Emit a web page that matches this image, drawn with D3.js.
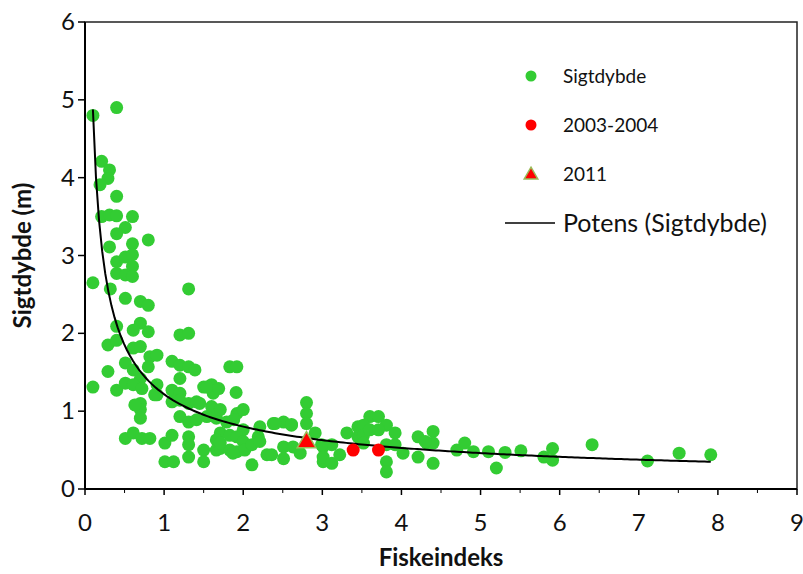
<!DOCTYPE html>
<html>
<head>
<meta charset="utf-8">
<script src="https://cdn.jsdelivr.net/npm/d3@7"></script>
<style>
  body { margin: 0; background: #fff; }
  text { font-family: Lato, "Open Sans", sans-serif; fill: #111; }
</style>
</head>
<body>
<svg id="chart" width="803" height="574"></svg>
<script>
// Sigtdybde (m) mod Fiskeindeks - punkter
const sigtX = [0.10, 0.40, 0.21, 0.31, 0.29, 0.19, 0.40, 0.21, 0.31, 0.40, 0.60, 0.51, 0.40, 0.80, 0.31, 0.60,
  0.40, 0.51, 0.60, 0.60, 0.40, 0.51, 0.60, 0.10, 0.32, 0.51, 1.31, 0.70, 0.80, 0.40, 0.70, 0.61, 0.80,
  1.20, 1.31, 0.29, 0.40, 0.61, 0.70, 0.51, 0.82, 0.91, 0.80, 1.10, 1.20, 1.31, 1.39, 0.29, 0.61, 1.20,
  0.70, 0.10, 0.40, 0.51, 0.61, 0.72, 0.91, 0.91, 1.10, 1.20, 1.50, 1.60, 1.62, 0.70, 0.70, 0.70, 1.10,
  1.20, 1.31, 1.41, 1.60, 1.20, 1.31, 1.41, 1.66, 1.71, 0.51, 0.61, 0.72, 0.82, 1.01, 1.10, 1.31, 1.31,
  1.31, 1.50, 1.50, 1.01, 1.12, 1.66, 1.66, 1.83, 1.92, 1.54, 1.69, 1.91, 1.64, 1.71, 1.92, 2.00, 1.54,
  1.79, 1.88, 2.21, 2.00, 1.83, 1.92, 2.00, 2.19, 2.38, 2.51, 2.61, 2.80, 2.80, 2.80, 2.91, 1.71, 1.83,
  1.92, 2.02, 2.11, 2.11, 2.30, 2.51, 2.51, 2.63, 2.72, 3.01, 0.63, 0.88, 1.45, 1.71, 1.87, 2.21, 2.40,
  2.36, 3.01, 3.12, 3.01, 3.12, 3.22, 3.31, 3.45, 3.45, 3.60, 3.71, 3.52, 3.81, 3.52, 3.60, 3.71, 3.92,
  3.52, 3.81, 3.92, 4.02, 3.81, 3.81, 4.21, 4.21, 4.32, 4.40, 4.40, 4.40, 4.30, 4.70, 4.80, 4.91, 5.10,
  5.20, 5.31, 5.51, 5.80, 5.91, 5.91, 6.41, 7.11, 7.51, 7.91, 2.99, 2.61];
const sigtY = [4.80, 4.90, 4.21, 4.10, 3.99, 3.91, 3.76, 3.50, 3.52, 3.51, 3.50, 3.36, 3.28, 3.20, 3.11, 3.15,
  2.92, 2.98, 3.01, 2.86, 2.77, 2.75, 2.73, 2.65, 2.57, 2.45, 2.57, 2.41, 2.36, 2.09, 2.13, 2.04, 2.02,
  1.98, 2.00, 1.85, 1.91, 1.81, 1.83, 1.62, 1.70, 1.72, 1.57, 1.64, 1.59, 1.57, 1.53, 1.51, 1.53, 1.42,
  1.42, 1.31, 1.27, 1.36, 1.34, 1.29, 1.34, 1.21, 1.27, 1.23, 1.31, 1.34, 1.23, 1.10, 1.02, 0.91, 1.12,
  1.14, 1.10, 1.12, 1.06, 0.93, 0.86, 0.89, 0.91, 0.72, 0.65, 0.72, 0.65, 0.65, 0.59, 0.69, 0.67, 0.57,
  0.41, 0.50, 0.35, 0.35, 0.35, 0.63, 0.50, 1.57, 1.57, 1.31, 1.29, 1.24, 1.02, 1.02, 0.97, 1.02, 0.93,
  0.86, 0.89, 0.80, 0.76, 0.69, 0.67, 0.61, 0.67, 0.84, 0.86, 0.82, 1.11, 0.97, 0.84, 0.72, 0.52, 0.50,
  0.48, 0.50, 0.57, 0.31, 0.44, 0.54, 0.39, 0.54, 0.46, 0.35, 1.08, 1.21, 1.10, 0.59, 0.46, 0.61, 0.84,
  0.44, 0.54, 0.57, 0.41, 0.33, 0.44, 0.72, 0.80, 0.67, 0.93, 0.93, 0.82, 0.82, 0.69, 0.76, 0.76, 0.72,
  0.59, 0.57, 0.57, 0.46, 0.35, 0.22, 0.67, 0.41, 0.59, 0.74, 0.59, 0.33, 0.61, 0.50, 0.59, 0.48, 0.48,
  0.27, 0.47, 0.49, 0.41, 0.52, 0.37, 0.57, 0.36, 0.46, 0.44, 0.57, 0.83];

// 2003-2004 og 2011
const p0304X = [3.39, 3.71];
const p0304Y = [0.50, 0.50];
const p2011X = [2.80];
const p2011Y = [0.60];

const xTicks = [0, 1, 2, 3, 4, 5, 6, 7, 8, 9];
const yTicks = [0, 1, 2, 3, 4, 5, 6];
const legendLabels = ["Sigtdybde", "2003-2004", "2011", "Potens (Sigtdybde)"];

const svg = d3.select("#chart");
const margin = {left: 85, right: 6, top: 22, bottom: 85};
const W = 803, H = 574;

const x = d3.scaleLinear().domain([0, 9]).range([margin.left, W - margin.right]);
const y = d3.scaleLinear().domain([0, 6]).range([H - margin.bottom, margin.top]);

// plot area frame
svg.append("rect")
    .attr("x", x(0)).attr("y", y(6))
    .attr("width", x(9) - x(0)).attr("height", y(0) - y(6))
    .attr("fill", "none").attr("stroke", "#222").attr("stroke-width", 1.5);

// power trendline fitted like Excel: regression of ln(y) on ln(x)
let lx = sigtX.map(Math.log), ly = sigtY.map(Math.log);
let mx = d3.mean(lx), my = d3.mean(ly);
let b = d3.sum(lx, (v, i) => (v - mx) * (ly[i] - my)) / d3.sum(lx, v => (v - mx) * (v - mx));
let a = Math.exp(my - b * mx);

let xmin = d3.min(sigtX), xmax = d3.max(sigtX);
let trend = d3.range(0, 201).map(i => {
    let xv = xmin + (xmax - xmin) * i / 200;
    return [xv, a * Math.pow(xv, b)];
});

// green points
let pts = sigtX.map((v, i) => [v, sigtY[i]]);
svg.append("g").selectAll("circle")
    .data(pts).enter().append("circle")
    .attr("cx", d => x(d[0])).attr("cy", d => y(d[1]))
    .attr("r", 6.5).attr("fill", "#33cc33");

svg.append("path")
    .datum(trend)
    .attr("d", d3.line().x(d => x(d[0])).y(d => y(d[1])))
    .attr("fill", "none").attr("stroke", "#000").attr("stroke-width", 2);

// red points
svg.append("g").selectAll("circle")
    .data(p0304X.map((v, i) => [v, p0304Y[i]])).enter().append("circle")
    .attr("cx", d => x(d[0])).attr("cy", d => y(d[1]))
    .attr("r", 6.5).attr("fill", "#ff0000");

// triangle 2011
let tri = d3.symbol().type(d3.symbolTriangle).size(150);
svg.append("g").selectAll("path")
    .data(p2011X.map((v, i) => [v, p2011Y[i]])).enter().append("path")
    .attr("d", tri)
    .attr("transform", d => "translate(" + x(d[0]) + "," + y(d[1]) + ")")
    .attr("fill", "#ff0000").attr("stroke", "#9bbb59").attr("stroke-width", 1.5);

// axes
let xAxis = svg.append("g").attr("transform", "translate(0," + y(0) + ")");
xAxis.append("line").attr("x1", x(0)).attr("x2", x(9)).attr("stroke", "#000").attr("stroke-width", 2);
xAxis.selectAll(".major").data(xTicks).enter().append("line")
    .attr("x1", d => x(d)).attr("x2", d => x(d)).attr("y1", 0).attr("y2", 6)
    .attr("stroke", "#000").attr("stroke-width", 1.5);
xAxis.selectAll(".minor").data(d3.range(0.5, 9, 1)).enter().append("line")
    .attr("x1", d => x(d)).attr("x2", d => x(d)).attr("y1", 0).attr("y2", 4)
    .attr("stroke", "#000").attr("stroke-width", 1);
xAxis.selectAll("text").data(xTicks).enter().append("text")
    .attr("x", d => x(d)).attr("y", 42)
    .attr("text-anchor", "middle").attr("font-size", 24)
    .text(d => d);

let yAxis = svg.append("g").attr("transform", "translate(" + x(0) + ",0)");
yAxis.append("line").attr("y1", y(0)).attr("y2", y(6)).attr("stroke", "#000").attr("stroke-width", 2);
yAxis.selectAll("line.t").data(yTicks).enter().append("line")
    .attr("class", "t")
    .attr("x1", -7).attr("x2", 0).attr("y1", d => y(d)).attr("y2", d => y(d))
    .attr("stroke", "#000").attr("stroke-width", 1.5);
yAxis.selectAll("text").data(yTicks).enter().append("text")
    .attr("x", -10).attr("y", d => y(d) + 8)
    .attr("text-anchor", "end").attr("font-size", 24)
    .text(d => d);

// axis titles
svg.append("text")
    .attr("x", (x(0) + x(9)) / 2).attr("y", 566)
    .attr("text-anchor", "middle").attr("font-size", 24).attr("font-weight", "bold")
    .text("Fiskeindeks");
svg.append("text")
    .attr("transform", "translate(31," + ((y(0) + y(6)) / 2) + ") rotate(-90)")
    .attr("text-anchor", "middle").attr("font-size", 24).attr("font-weight", "bold")
    .text("Sigtdybde (m)");

// legend
let lg = svg.append("g");
let ly0 = [76, 125, 174, 223];
lg.append("circle").attr("cx", 531).attr("cy", ly0[0]).attr("r", 5.5).attr("fill", "#33cc33");
lg.append("circle").attr("cx", 531).attr("cy", ly0[1]).attr("r", 5.5).attr("fill", "#ff0000");
lg.append("path").attr("d", d3.symbol().type(d3.symbolTriangle).size(80))
    .attr("transform", "translate(531," + (ly0[2] + 1) + ")")
    .attr("fill", "#ff0000").attr("stroke", "#9bbb59").attr("stroke-width", 1.5);
lg.append("line").attr("x1", 505).attr("x2", 555).attr("y1", ly0[3]).attr("y2", ly0[3])
    .attr("stroke", "#000").attr("stroke-width", 1.5);
legendLabels.forEach((t, i) => {
    lg.append("text")
        .attr("x", 563).attr("y", ly0[i] + (i == 3 ? 9 : 7))
        .attr("font-size", i == 3 ? 25 : 19)
        .text(t);
});
</script>
</body>
</html>
